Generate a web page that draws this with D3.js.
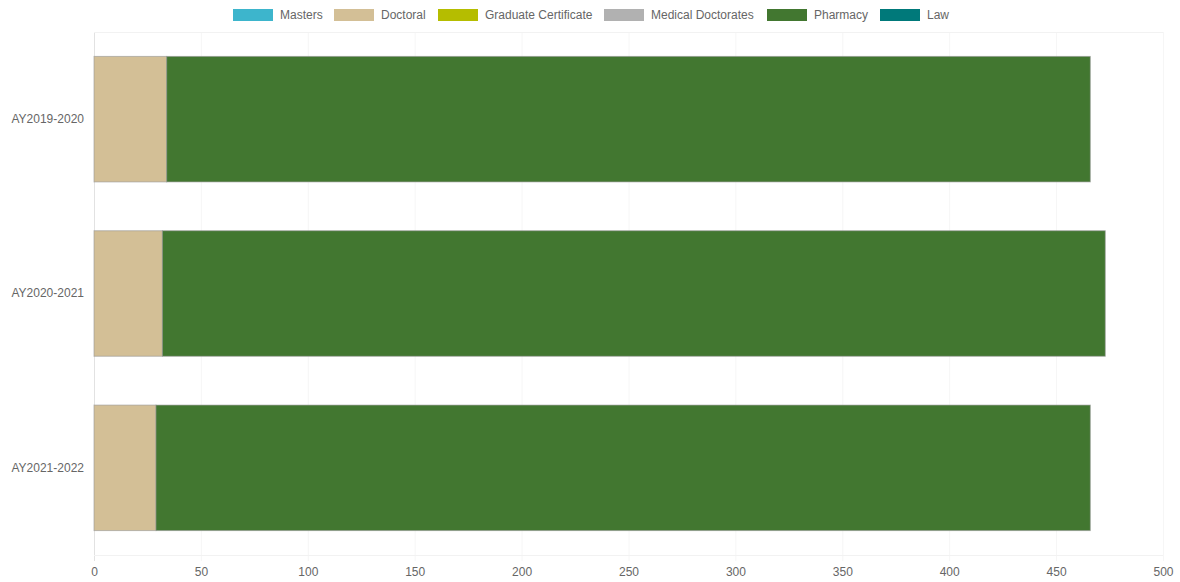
<!DOCTYPE html>
<html><head><meta charset="utf-8">
<script src="https://cdn.jsdelivr.net/npm/d3@7"></script>
<style>body{margin:0;background:#fff;}svg{display:block;font-family:"Liberation Sans",Arial,sans-serif;}</style>
</head><body>
<svg id="chart" width="1180" height="582"></svg>
<script>
const categories = ["AY2019-2020", "AY2020-2021", "AY2021-2022"];
const seriesNames = ["Masters", "Doctoral", "Graduate Certificate", "Medical Doctorates", "Pharmacy", "Law"];
const seriesColors = ["#3DB5CC", "#D3BF96", "#B5BD00", "#B1B1B1", "#427730", "#00797A"];
const masters = [0, 0, 0];
const doctoral = [34, 32, 29];
const gradCert = [0, 0, 0];
const medical = [0, 0, 0];
const pharmacy = [432, 441, 437];
const law = [0, 0, 0];
const xTicks = [0, 50, 100, 150, 200, 250, 300, 350, 400, 450, 500];

const seriesValues = [masters, doctoral, gradCert, medical, pharmacy, law];
const rows = categories.map((c, i) => {
  const r = {cat: c};
  seriesNames.forEach((s, j) => r[s] = seriesValues[j][i]);
  return r;
});

const svg = d3.select("#chart");
const m = {left: 94, right: 1163, top: 32, bottom: 555};
const x = d3.scaleLinear().domain([0, 500]).range([m.left, m.right]);
const y = d3.scaleBand().domain(categories).range([m.top, m.bottom]).paddingInner(0.28).paddingOuter(0.14);

// grid
svg.append("g").selectAll("line").data(xTicks).join("line")
  .attr("x1", d => x(d) + 0.5).attr("x2", d => x(d) + 0.5)
  .attr("y1", m.top).attr("y2", m.bottom + 6)
  .attr("stroke", d => d === 0 ? "#e2e2e2" : "#f6f6f6");
svg.append("line").attr("x1", m.left).attr("x2", m.right).attr("y1", m.top + 0.5).attr("y2", m.top + 0.5).attr("stroke", "#f2f2f2");
svg.append("line").attr("x1", m.left).attr("x2", m.right).attr("y1", m.bottom + 0.5).attr("y2", m.bottom + 0.5).attr("stroke", "#f2f2f2");

const stack = d3.stack().keys(seriesNames)(rows);
const color = d3.scaleOrdinal().domain(seriesNames).range(seriesColors);

svg.append("g").selectAll("g").data(stack).join("g")
  .attr("fill", d => color(d.key))
  .selectAll("rect").data(d => d.filter(p => p[1] - p[0] > 0)).join("rect")
  .attr("x", d => x(d[0]))
  .attr("y", d => y(d.data.cat))
  .attr("width", d => x(d[1]) - x(d[0]))
  .attr("height", y.bandwidth())
  .attr("stroke", "rgba(150,150,150,0.6)")
  .attr("stroke-width", 1);

// x axis labels
const xa = svg.append("g").attr("transform", `translate(0,${m.bottom})`)
  .call(d3.axisBottom(x).tickValues(xTicks).tickSize(0).tickPadding(12).tickFormat(d3.format("d")));
xa.select(".domain").remove();
xa.selectAll("text").attr("fill", "#666").attr("font-size", 12).attr("font-family", "Liberation Sans, Arial, sans-serif");

// y axis labels
const ya = svg.append("g").attr("transform", `translate(${m.left},0)`)
  .call(d3.axisLeft(y).tickSize(0).tickPadding(10));
ya.select(".domain").remove();
ya.selectAll("text").attr("fill", "#666").attr("font-size", 12).attr("font-family", "Liberation Sans, Arial, sans-serif");

// legend
const lx = [233, 334, 438, 604, 767, 880];
const lg = svg.append("g");
seriesNames.forEach((s, i) => {
  lg.append("rect").attr("x", lx[i]).attr("y", 9).attr("width", 40).attr("height", 12).attr("fill", seriesColors[i]);
  lg.append("text").attr("x", lx[i] + 47).attr("y", 19).attr("font-size", 12).attr("fill", "#666")
    .attr("textLength", null).text(s);
});
</script>
</body></html>
